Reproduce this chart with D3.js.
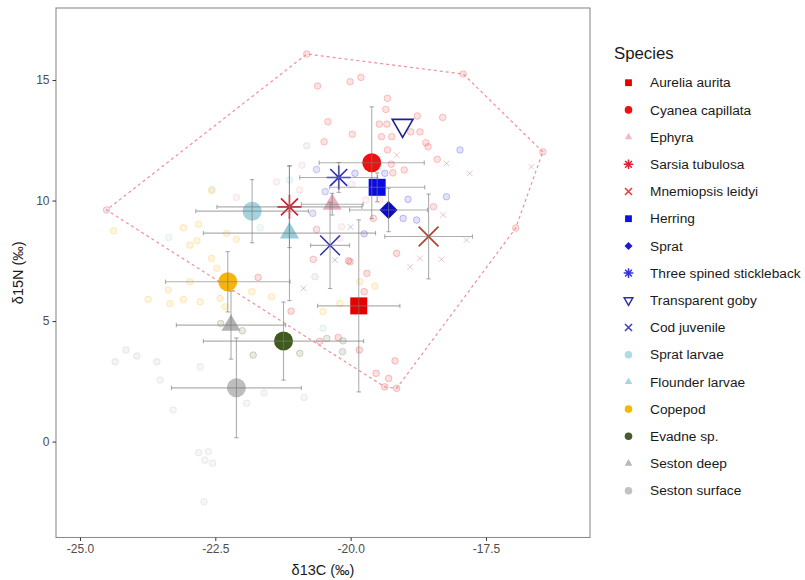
<!DOCTYPE html>
<html><head><meta charset="utf-8">
<script src="https://cdn.jsdelivr.net/npm/d3@7"></script>
<style>body{margin:0;background:#fff}svg{display:block;font-family:"Liberation Sans",Arial,sans-serif}</style>
</head><body><svg id="c" width="805" height="580"></svg>
<script>
// ---------- data ----------
const species = ["Aurelia aurita","Cyanea capillata","Ephyra","Sarsia tubulosa","Mnemiopsis leidyi","Herring","Sprat","Three spined stickleback","Transparent goby","Cod juvenile","Sprat larvae","Flounder larvae","Copepod","Evadne sp.","Seston deep","Seston surface"];
const meanX = [-19.85,-19.61,-20.34,-21.13,-18.56,-19.51,-19.30,-20.22,-19.04,-20.38,-21.82,-21.13,-22.27,-21.24,-22.21,-22.11];
const meanY = [5.63,11.57,9.85,9.74,8.51,10.55,9.61,10.96,13.12,8.14,9.56,8.65,6.63,4.17,4.83,2.23];
const sdX   = [0.76,0.97,0.57,1.34,0.81,0.88,0.72,0.72,0,0.36,1.04,1.59,1.15,1.48,1.01,1.20];
const sdY   = [3.57,2.32,0.45,1.69,1.76,0.60,0.90,0.62,0,1.79,1.31,2.80,1.25,1.62,1.41,2.07];
const xTicks = [-25,-22.5,-20,-17.5];
const xTickLabels = ["-25.0","-22.5","-20.0","-17.5"];
const yTicks = [0,5,10,15];
const yTickLabels = ["0","5","10","15"];

// raw individual samples (x = d13C, y = d15N)
const rawAurelia = [[-21.71,6.81],[-19.15,7.81],[-19.70,6.98],[-20.01,7.46],[-21.10,5.41],[-20.23,4.32],[-20.57,4.16],[-20.04,7.50],[-19.75,6.22],[-19.84,3.80],[-19.18,3.35],[-19.53,2.83],[-19.30,2.62],[-19.15,2.21],[-19.37,2.27]];
const rawCyanea = [[-20.61,14.75],[-20.42,13.27],[-20.49,12.44],[-20.01,14.93],[-19.81,15.11],[-19.32,14.24],[-19.35,13.78],[-19.47,13.17],[-19.33,13.17],[-18.77,13.51],[-18.30,13.45],[-18.89,12.85],[-18.72,12.85],[-19.97,12.75],[-19.43,12.65],[-19.24,12.65],[-18.61,12.40],[-18.57,12.23],[-19.32,12.10],[-18.40,11.71],[-19.25,11.51],[-19.01,11.27],[-19.22,11.15],[-20.81,16.08],[-17.92,15.25],[-16.45,12.02],[-16.95,8.86]];
const rawEphyra = [[-20.90,11.47],[-21.37,10.78],[-22.11,10.13],[-20.94,10.44],[-19.98,10.67],[-19.72,10.02],[-19.46,10.02],[-20.17,8.91],[-20.20,8.43]];
const rawSarsia = [[-20.63,8.80],[-20.69,7.56],[-19.58,9.26],[-18.47,9.74],[-24.51,9.61]];
const rawMnemiopsis = [[-17.80,11.13],[-16.66,11.40],[-18.23,11.54],[-17.86,8.36],[-18.72,7.60],[-18.90,7.25],[-18.29,9.40],[-18.32,7.56],[-19.15,11.89]];
const rawHerring = [[-17.98,12.10],[-18.23,10.16],[-18.94,10.05],[-19.92,11.13],[-19.37,11.13]];
const rawSprat = [[-18.78,9.19],[-19.03,9.26],[-19.75,8.62]];
const rawStickleback = [[-20.47,10.37],[-20.70,9.47],[-20.63,11.29]];
const rawGoby = [];
const rawCod = [[-20.29,7.53],[-20.87,6.36],[-20.00,8.90]];
const rawSpratLarvae = [[-23.36,8.47],[-21.67,8.87],[-22.56,10.47]];
const rawFlounder = [[-21.13,10.85],[-20.51,4.70]];
const rawCopepod = [[-22.57,10.41],[-23.09,8.87],[-22.81,9.02],[-22.97,8.15],[-22.84,8.33],[-24.38,8.75],[-22.11,8.39],[-22.29,8.64],[-23.74,5.90],[-23.34,5.73],[-23.09,5.90],[-22.78,5.80],[-22.41,5.94],[-22.32,5.59],[-22.97,6.63],[-23.37,6.29],[-22.57,7.60],[-22.47,7.19],[-21.83,6.22],[-21.46,6.01],[-19.83,6.63],[-19.55,6.45],[-20.51,5.39],[-20.20,5.73]];
const rawEvadne = [[-20.44,4.28],[-20.14,4.18],[-20.15,3.73],[-21.80,3.59],[-20.94,3.66],[-22.00,4.60],[-22.40,4.90]];
const rawSestonDeep = [[-24.15,3.80],[-24.35,3.31],[-23.95,3.55],[-23.58,3.31],[-20.81,12.27],[-20.66,6.84]];
const rawSestonSurface = [[-23.52,2.55],[-22.78,3.10],[-23.28,1.31],[-22.81,-0.46],[-22.63,-0.42],[-22.69,-0.77],[-22.55,-0.90],[-22.71,-2.50],[-21.92,1.59],[-21.60,2.02],[-20.86,1.83]];
const rawBySpecies = [rawAurelia,rawCyanea,rawEphyra,rawSarsia,rawMnemiopsis,rawHerring,rawSprat,rawStickleback,rawGoby,rawCod,rawSpratLarvae,rawFlounder,rawCopepod,rawEvadne,rawSestonDeep,rawSestonSurface];
const jellyfish = [0,1,2,3,4]; // groups enclosed by the hull

// ---------- styles ----------
const shapes = ["square","circle","triangle","asterisk","x","square","diamond","asterisk","triangleDown","x","circle","triangle","circle","circle","triangle","circle"];
const colors = ["#e60000","#ee1111","#e99aae","#d01c2a","#c0392b","#0a0ae6","#0a0acc","#2b2bc8","#1f1f99","#3535a5","#93cbd8","#86c3d3","#f5b000","#3f5a1d","#a6a6a6","#b3b3b3"];
const meanAlpha = [1,1,0.8,1,1,1,1,1,1,1,0.85,0.85,0.95,1,0.85,0.85];
const legendColors = ["#e60000","#ee1111","#f4b9c6","#dd2233","#e03c3c","#1010e0","#1a1ad0","#3333dd","#3030a0","#4040b0","#b0dbe3","#a8d6de","#f5b800","#4a5a30","#b8b8b8","#c2c2c2"];

function shapePath(s, r) {
  switch (s) {
    case "circle": return `M${r},0A${r},${r} 0 1,1 ${-r},0A${r},${r} 0 1,1 ${r},0Z`;
    case "square": return `M${-r},${-r}H${r}V${r}H${-r}Z`;
    case "triangle": return `M0,${-r}L${r*0.866},${r/2}L${-r*0.866},${r/2}Z`;
    case "triangleDown": return `M0,${r}L${r*0.866},${-r/2}L${-r*0.866},${-r/2}Z`;
    case "diamond": return `M0,${-r}L${r},0L0,${r}L${-r},0Z`;
    case "x": { const a=r*0.7071; return `M${-a},${-a}L${a},${a}M${-a},${a}L${a},${-a}`; }
    case "asterisk": { const a=r*0.7071; return `M0,${-r}V${r}M${-r},0H${r}M${-a},${-a}L${a},${a}M${-a},${a}L${a},${-a}`; }
  }
}
const stroked = s => s==="x"||s==="asterisk"||s==="triangleDown";

// ---------- layout ----------
const svg = d3.select("#c");
const L=56, R=590, T=8, B=537.5;
const x = d3.scaleLinear().domain([-25.443,-15.578]).range([L,R]);
const y = d3.scaleLinear().domain([-3.98,17.99]).range([B,T]);

svg.append("rect").attr("width",805).attr("height",580).attr("fill","#fff");

// raw points (faint)
const gRaw = svg.append("g");
rawBySpecies.forEach((pts,i)=>{
  const isX = shapes[i]==="x";
  gRaw.selectAll(null).data(pts).enter().append("path")
    .attr("transform",d=>`translate(${x(d[0])},${y(d[1])})`)
    .attr("d",shapePath(isX?"x":"circle", isX?4:3.3))
    .attr("fill",isX?"none":colors[i]).attr("fill-opacity",0.12)
    .attr("stroke",colors[i]).attr("stroke-opacity",isX?0.28:0.22).attr("stroke-width",1);
});

// convex hull of jellyfish samples
const hullPts = d3.polygonHull(jellyfish.flatMap(i=>rawBySpecies[i]).map(d=>[x(d[0]),y(d[1])]));
svg.append("path").attr("d","M"+hullPts.join("L")+"Z")
  .attr("fill","none").attr("stroke","#ee7b86").attr("stroke-width",1.2)
  .attr("stroke-dasharray","3,3").attr("stroke-opacity",0.85);

// means
const idx = d3.range(species.length);
const gMean = svg.append("g");
idx.forEach(i=>{
  const s = shapes[i];
  let r = 9.5;
  if (s==="square") r=8.5;
  if (s==="triangle") r=11;
  if (s==="triangleDown") r=12;
  if (s==="diamond") r=9;
  if (s==="x") r=14;
  if (s==="asterisk") r=12;
  const st = stroked(s);
  gMean.append("path").attr("transform",`translate(${x(meanX[i])},${y(meanY[i])})`)
    .attr("d",shapePath(s,r))
    .attr("fill",st?"none":colors[i]).attr("fill-opacity",meanAlpha[i])
    .attr("stroke",st?colors[i]:"none").attr("stroke-width",st?1.6:0);
});

// error bars (mean ± SD)
const gErr = svg.append("g").attr("stroke","#7a7a7a").attr("stroke-opacity",0.6).attr("stroke-width",1.1);
idx.filter(i=>sdX[i]>0).forEach(i=>{
  const cy=y(meanY[i]), x0=x(meanX[i]-sdX[i]), x1=x(meanX[i]+sdX[i]);
  gErr.append("line").attr("x1",x0).attr("x2",x1).attr("y1",cy).attr("y2",cy);
  [x0,x1].forEach(v=>gErr.append("line").attr("x1",v).attr("x2",v).attr("y1",cy-2.2).attr("y2",cy+2.2));
});
idx.filter(i=>sdY[i]>0).forEach(i=>{
  const cx=x(meanX[i]), y0=y(meanY[i]-sdY[i]), y1=y(meanY[i]+sdY[i]);
  gErr.append("line").attr("x1",cx).attr("x2",cx).attr("y1",y0).attr("y2",y1);
  [y0,y1].forEach(v=>gErr.append("line").attr("y1",v).attr("y2",v).attr("x1",cx-2.2).attr("x2",cx+2.2));
});

// panel border
svg.append("rect").attr("x",L).attr("y",T).attr("width",R-L).attr("height",B-T)
  .attr("fill","none").attr("stroke","#8c8c8c").attr("stroke-width",1.1);

// axes
const xa = svg.append("g").attr("transform",`translate(0,${B})`)
  .call(d3.axisBottom(x).tickValues(xTicks).tickSize(3.5).tickPadding(3).tickFormat((d,i)=>xTickLabels[i]));
const ya = svg.append("g").attr("transform",`translate(${L},0)`)
  .call(d3.axisLeft(y).tickValues(yTicks).tickSize(3.5).tickPadding(3).tickFormat((d,i)=>yTickLabels[i]));
[xa,ya].forEach(a=>{
  a.select(".domain").remove();
  a.selectAll(".tick line").attr("stroke","#333");
  a.selectAll(".tick text").attr("fill","#4d4d4d").attr("font-size",12).attr("font-family","Liberation Sans, Arial, sans-serif");
});

svg.append("text").attr("x",(L+R)/2).attr("y",575).attr("text-anchor","middle")
  .attr("font-size",14.5).attr("fill","#1a1a1a").text("δ13C (‰)");
svg.append("text").attr("transform",`translate(23,${(T+B)/2}) rotate(-90)`).attr("text-anchor","middle")
  .attr("font-size",14.5).attr("fill","#1a1a1a").text("δ15N (‰)");

// legend
const lg = svg.append("g");
lg.append("text").attr("x",614).attr("y",59).attr("font-size",16.8).attr("fill","#1a1a1a").text("Species");
idx.forEach(i=>{
  const cy = 82.7 + i*27.2;
  const s = shapes[i], st = stroked(s);
  let r = 3.8;
  if (s==="square") r=3.4;
  if (s==="triangle") r=4.4;
  if (s==="triangleDown") r=5;
  if (s==="x") r=5;
  if (s==="asterisk") r=4.8;
  if (s==="diamond") r=4;
  lg.append("path").attr("transform",`translate(628.5,${cy})`).attr("d",shapePath(s,r))
    .attr("fill",st?"none":legendColors[i]).attr("stroke",st?legendColors[i]:"none").attr("stroke-width",st?1.5:0);
  lg.append("text").attr("x",650).attr("y",cy+4.7).attr("font-size",13.7).attr("fill","#1a1a1a").text(species[i]);
});
</script></body></html>
